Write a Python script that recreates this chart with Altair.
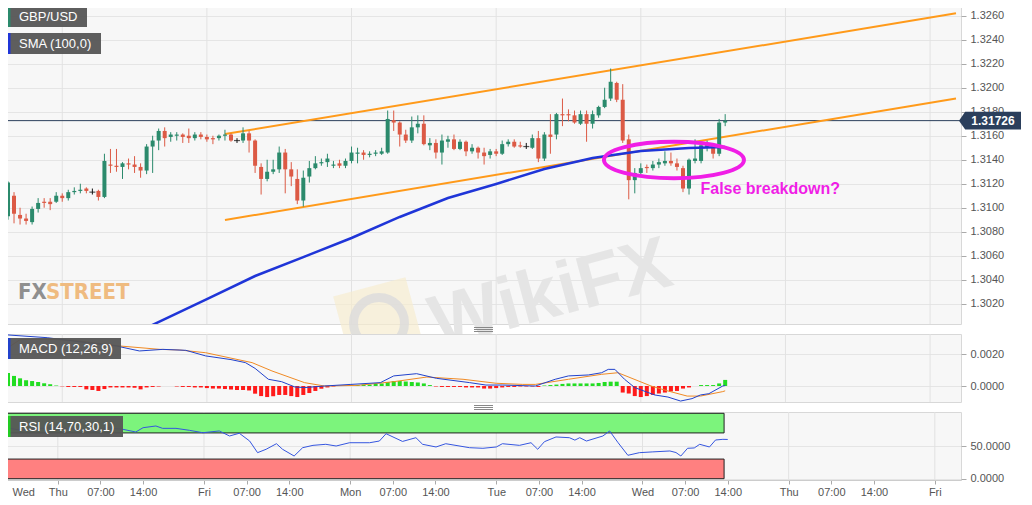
import json
import altair as alt
import pandas as pd

# ---------------- data ----------------
# hourly candle positions: hours since Thu 00:00 (weekend compressed)
hours = list(range(-9, 111))

opens = [
    1.3093, 1.3110, 1.3094, 1.3091, 1.3088, 1.3099, 1.3105, 1.3105, 1.3105, 1.3110, 1.3108, 1.3113,
    1.3114, 1.3116, 1.3113, 1.3114, 1.3109, 1.3136, 1.3135, 1.3134, 1.3137, 1.3136, 1.3134, 1.3131,
    1.3151, 1.3156, 1.3164, 1.3159, 1.3160, 1.3161, 1.3160, 1.3158, 1.3161, 1.3159, 1.3158, 1.3158,
    1.3160, 1.3161, 1.3156, 1.3156, 1.3162, 1.3156, 1.3134, 1.3124, 1.3130, 1.3132, 1.3146, 1.3132,
    1.3124, 1.3106, 1.3126, 1.3133, 1.3137, 1.3138, 1.3135, 1.3137, 1.3135, 1.3139, 1.3145, 1.3146,
    1.3144, 1.3145, 1.3145, 1.3146, 1.3173, 1.3171, 1.3161, 1.3156, 1.3167, 1.3170, 1.3152, 1.3154,
    1.3146, 1.3155, 1.3157, 1.3149, 1.3155, 1.3147, 1.3150, 1.3146, 1.3144, 1.3147, 1.3145, 1.3153,
    1.3155, 1.3152, 1.3151, 1.3150, 1.3158, 1.3141, 1.3161, 1.3161, 1.3178, 1.3178, 1.3177, 1.3170,
    1.3178, 1.3170, 1.3177, 1.3184, 1.3191, 1.3204, 1.3190, 1.3157, 1.3123, 1.3129, 1.3134, 1.3133,
    1.3136, 1.3137, 1.3139, 1.3137, 1.3133, 1.3116, 1.3139, 1.3139, 1.3150, 1.3151, 1.3145, 1.3171,
]
highs = [
    1.3122, 1.3113, 1.3100, 1.3095, 1.3101, 1.3108, 1.3108, 1.3108, 1.3113, 1.3112, 1.3115, 1.3117,
    1.3120, 1.3117, 1.3116, 1.3115, 1.3145, 1.3149, 1.3149, 1.3138, 1.3141, 1.3143, 1.3137, 1.3153,
    1.3160, 1.3166, 1.3167, 1.3163, 1.3163, 1.3162, 1.3166, 1.3163, 1.3163, 1.3161, 1.3160, 1.3161,
    1.3165, 1.3162, 1.3158, 1.3167, 1.3164, 1.3157, 1.3137, 1.3140, 1.3140, 1.3151, 1.3149, 1.3138,
    1.3132, 1.3131, 1.3139, 1.3143, 1.3141, 1.3145, 1.3139, 1.3140, 1.3141, 1.3151, 1.3150, 1.3148,
    1.3147, 1.3148, 1.3150, 1.3181, 1.3181, 1.3172, 1.3165, 1.3176, 1.3177, 1.3177, 1.3158, 1.3157,
    1.3161, 1.3160, 1.3161, 1.3157, 1.3156, 1.3153, 1.3151, 1.3150, 1.3149, 1.3149, 1.3156, 1.3157,
    1.3157, 1.3155, 1.3154, 1.3161, 1.3164, 1.3163, 1.3178, 1.3179, 1.3191, 1.3182, 1.3181, 1.3181,
    1.3181, 1.3181, 1.3185, 1.3200, 1.3216, 1.3205, 1.3203, 1.3161, 1.3133, 1.3137, 1.3136, 1.3139,
    1.3141, 1.3147, 1.3146, 1.3141, 1.3135, 1.3141, 1.3157, 1.3154, 1.3156, 1.3153, 1.3174, 1.3178,
]
lows = [
    1.3090, 1.3087, 1.3086, 1.3086, 1.3086, 1.3096, 1.3100, 1.3098, 1.3104, 1.3105, 1.3106, 1.3111,
    1.3112, 1.3112, 1.3111, 1.3106, 1.3108, 1.3129, 1.3130, 1.3124, 1.3132, 1.3129, 1.3125, 1.3128,
    1.3129, 1.3148, 1.3151, 1.3155, 1.3156, 1.3154, 1.3154, 1.3156, 1.3157, 1.3155, 1.3153, 1.3156,
    1.3156, 1.3155, 1.3154, 1.3154, 1.3146, 1.3129, 1.3111, 1.3122, 1.3128, 1.3129, 1.3112, 1.3118,
    1.3103, 1.3101, 1.3121, 1.3132, 1.3135, 1.3134, 1.3133, 1.3133, 1.3133, 1.3137, 1.3137, 1.3140,
    1.3142, 1.3143, 1.3144, 1.3145, 1.3164, 1.3151, 1.3154, 1.3154, 1.3162, 1.3152, 1.3148, 1.3141,
    1.3136, 1.3150, 1.3148, 1.3148, 1.3143, 1.3145, 1.3141, 1.3136, 1.3141, 1.3143, 1.3144, 1.3151,
    1.3150, 1.3150, 1.3149, 1.3149, 1.3138, 1.3139, 1.3145, 1.3157, 1.3168, 1.3172, 1.3170, 1.3169,
    1.3155, 1.3166, 1.3175, 1.3183, 1.3189, 1.3188, 1.3154, 1.3107, 1.3112, 1.3128, 1.3129, 1.3131,
    1.3133, 1.3135, 1.3135, 1.3131, 1.3113, 1.3111, 1.3137, 1.3137, 1.3147, 1.3141, 1.3143, 1.3168,
]
closes = [
    1.3121, 1.3095, 1.3091, 1.3089, 1.3099, 1.3104, 1.3104, 1.3103, 1.3110, 1.3108, 1.3113, 1.3114,
    1.3115, 1.3114, 1.3113, 1.3109, 1.3139, 1.3135, 1.3134, 1.3137, 1.3136, 1.3134, 1.3131, 1.3151,
    1.3156, 1.3164, 1.3158, 1.3161, 1.3161, 1.3159, 1.3158, 1.3161, 1.3159, 1.3157, 1.3157, 1.3160,
    1.3161, 1.3156, 1.3156, 1.3162, 1.3156, 1.3135, 1.3124, 1.3130, 1.3132, 1.3146, 1.3132, 1.3126,
    1.3106, 1.3125, 1.3133, 1.3137, 1.3138, 1.3141, 1.3136, 1.3135, 1.3139, 1.3146, 1.3146, 1.3144,
    1.3145, 1.3146, 1.3147, 1.3174, 1.3171, 1.3161, 1.3156, 1.3167, 1.3170, 1.3153, 1.3154, 1.3146,
    1.3156, 1.3157, 1.3149, 1.3155, 1.3147, 1.3150, 1.3146, 1.3143, 1.3147, 1.3145, 1.3153, 1.3155,
    1.3151, 1.3151, 1.3151, 1.3158, 1.3141, 1.3161, 1.3159, 1.3178, 1.3177, 1.3177, 1.3171, 1.3178,
    1.3170, 1.3178, 1.3184, 1.3190, 1.3205, 1.3190, 1.3156, 1.3123, 1.3129, 1.3133, 1.3133, 1.3136,
    1.3138, 1.3139, 1.3137, 1.3134, 1.3116, 1.3140, 1.3141, 1.3152, 1.3153, 1.3145, 1.3171, 1.31726,
]

# SMA(100) read at several points
sma_t = [14, 24, 32, 40, 48, 56, 64, 72, 80, 88, 96, 104, 110]
sma_v = [1.3000, 1.30239, 1.30431, 1.30589, 1.30748, 1.30923, 1.31081, 1.31198,
         1.31323, 1.31414, 1.31473, 1.31498, 1.31506]

# rising channel (two hand-drawn trend lines)
channel_t = [27.0, 148.3]
channel_upper = [1.31614, 1.32620]
channel_lower = [1.30898, 1.31911]

last_price = 1.31726

# annotation
note_text = "False breakdown?"
note_t, note_p = 105.9, 1.31156
ellipse_t, ellipse_p = 101.5, 1.31398

# MACD (12,26,9)
macd_hist = [
    0.00081, 0.00063, 0.00048, 0.00036, 0.00031, 0.00025, 0.00017, 0.00011, 0.00003, -0.00002,
    -0.00006, -0.00006, -0.00006, -0.00021, -0.00025, -0.00031, -0.00019, -0.00009, -0.00009, -0.00009,
    -0.00009, -0.00011, -0.00021, -0.00009, -0.00006, -0.00003, 0.0, 0.0, -0.00003, -0.00006,
    -0.00006, -0.00009, -0.00009, -0.00013, -0.00016, -0.00016, -0.00019, -0.00022, -0.00025, -0.00025,
    -0.00028, -0.00048, -0.00063, -0.00069, -0.00064, -0.00056, -0.00056, -0.00063, -0.00069, -0.00056,
    -0.00044, -0.00031, -0.00017, -0.00009, -0.00003, 0.0, 0.0, 0.00003, 0.00006, 0.00009,
    0.00009, 0.00013, 0.00016, 0.00025, 0.00031, 0.00031, 0.00028, 0.00025, 0.00022, 0.00016,
    0.00006, -0.00003, -0.00006, -0.00006, -0.00006, -0.00006, -0.00009, -0.00009, -0.00009, -0.00016,
    -0.00016, -0.00013, -0.00009, -0.00006, -0.00006, -0.00003, -0.00003, -0.00003, -0.00006, 0.00003,
    0.00006, 0.00009, 0.00013, 0.00016, 0.00016, 0.00016, 0.00016, 0.00016, 0.00019, 0.00025,
    0.00027, 0.00027, -0.00041, -0.00047, -0.00063, -0.00069, -0.00063, -0.00056, -0.00047, -0.00041,
    -0.00034, -0.00031, -0.00016, -0.00009, 0.0, 0.00006, 0.00006, 0.00006, 0.00016, 0.00038,
]
macd_t = [-9, -2.5, 4, 9, 12.8, 16.7, 20.5, 23.8, 28, 30.4, 32, 34.2, 36.4, 38.6, 40.2, 43.5,
          47.9, 52.8, 55, 58.8, 62.1, 67.6, 70.3, 73, 78.5, 81.8, 84, 87.3, 89.5, 90.6, 91.7,
          93.3, 95, 98.3, 100.5, 102.6, 104.5, 105.9, 107.3, 109.6, 110]
macd_v = [0.00319, 0.00302, 0.00271, 0.0025, 0.00219, 0.00229, 0.00223, 0.00188, 0.00165, 0.00146,
          0.0011, 0.00042, 0.00027, -0.00006, -0.0001, 0.0, 0.0001, 0.00021, 0.00063, 0.00077,
          0.00048, 0.00021, 0.00006, 0.00006, 0.0, 0.00042, 0.00063, 0.00069, 0.00083, 0.00104,
          0.00104, 0.00042, -0.0001, -0.00056, -0.00069, -0.00094, -0.00079, -0.00056, -0.00048,
          0.0, 0.00003]
signal_t = [-9, -7, -2.5, 2, 9.6, 16.2, 19.5, 23.8, 31.5, 34.8, 40.2, 43.5, 49, 55, 60.5, 66.5,
            72, 76.4, 78.5, 84, 89.5, 92.2, 97.7, 100.5, 103.7, 105.9, 109.6, 110]
signal_v = [0.0024, 0.0029, 0.00292, 0.00285, 0.0025, 0.00229, 0.00225, 0.00208, 0.00146, 0.00094,
            0.00021, 0.0, 0.00004, 0.00027, 0.00056, 0.00042, 0.00017, 0.0001, 0.0001, 0.00042,
            0.00073, 0.00083, 0.0, -0.00031, -0.00063, -0.00063, -0.00035, -0.0003]

# RSI (14,70,30,1)
rsi_t = [-9, -8.5, -6, -3, 0, 3, 6, 8, 10.7, 12.8, 14, 16.1, 17.2, 19.4, 21.6, 23.8, 26.5, 28.2,
         29.8, 31.5, 32.8, 34.2, 35.9, 36.9, 38.8, 40.2, 41.9, 44, 45.7, 47.9, 51.2, 52.8, 53.9,
         56.6, 58.8, 59.9, 62.1, 63.7, 67.6, 69.8, 72, 73, 75.8, 77.7, 78.8, 79.9, 81.8, 84, 84.9,
         85.7, 86.8, 89.5, 90.6, 92, 93.6, 95.5, 97.7, 100.5, 101.5, 102.3, 103.4, 104.5, 105.4,
         107, 108, 109.2, 110]
rsi_v = [83, 78, 74, 77, 78, 76, 72, 78, 75.5, 71.4, 78, 80.6, 77, 77, 74, 70.3, 73, 65.3,
         69.5, 57.6, 39.8, 45, 53.5, 45, 34.7, 47.4, 51, 52.6, 50, 55, 55, 57.6, 68.8,
         57, 62.7, 52.6, 48.5, 53.5, 47.4, 46.5, 48.5, 53.5, 51, 55, 45, 56.6, 63.8, 62.7, 59,
         62.7, 57.6, 65.3, 73, 55, 35.8, 39.8, 41, 42.4, 40, 34.7, 46.5, 47, 52.6,
         48.5, 59.2, 60.2, 60]
rsi_upper, rsi_lower, rsi_max = 70, 30, 100
rsi_band_end = 109.4

# axes
day_ticks = [0, 24, 48, 72, 96, 120, 144]
x_tick_vals = [-9, 0, 7, 14, 24, 31, 38, 48, 55, 62, 72, 79, 86, 96, 103, 110, 120, 127, 134, 144]
x_tick_labels = ["Wed", "Thu", "07:00", "14:00", "Fri", "07:00", "14:00", "Mon", "07:00", "14:00",
                 "Tue", "07:00", "14:00", "Wed", "07:00", "14:00", "Thu", "07:00", "14:00", "Fri"]
price_ticks = [1.3020, 1.3040, 1.3060, 1.3080, 1.3100, 1.3120, 1.3140, 1.3160, 1.3180,
               1.3200, 1.3220, 1.3240, 1.3260]
macd_ticks = [0.0, 0.0020]
rsi_ticks = [0, 50]

# ---------------- styling ----------------
FONT = "Liberation Sans, Arial, sans-serif"
NARROW = "Liberation Sans Narrow, DejaVu Sans Condensed, Arial Narrow, sans-serif"
GREEN = "#2b8a6c"
RED = "#dc5a45"
MAGENTA = "#f01ee6"
NAVY = "#2b3f5c"
W = 958

xs = alt.Scale(domain=[-9, 148.3], nice=False, zero=False)
ys_main = alt.Scale(domain=[1.30031, 1.32723], nice=False, zero=False)
ys_macd = alt.Scale(domain=[-0.001, 0.00325], nice=False, zero=False)
ys_rsi = alt.Scale(domain=[-2, 102], nice=False, zero=False)


def y_axis(values):
    return alt.Axis(orient="right", values=values, format=".4f", title=None, grid=True,
                    gridColor="#e5e5e5", domain=False, tickColor="#aaaaaa", tickSize=5,
                    labelColor="#555555", labelFontSize=11, labelFont=FONT, labelPadding=4)


ax_main = y_axis(price_ticks)
ax_macd = y_axis(macd_ticks)
ax_rsi = y_axis(rsi_ticks)

label_expr = f"{json.dumps(x_tick_labels)}[indexof({json.dumps(x_tick_vals)}, datum.value)]"
first_tick = f"datum.value == {x_tick_vals[0]}"
ax_x = alt.Axis(values=x_tick_vals, labelExpr=label_expr, grid=False, domain=True,
                domainColor="#cccccc", ticks=True, tickSize=4, tickColor="#aaaaaa",
                labelColor="#555555", labelFontSize=11, labelFont=FONT, labelPadding=2,
                labelFlush=True, labelOverlap=False, title=None,
                labelAlign=alt.condition(first_tick, alt.value("left"), alt.value("center")),
                labelOffset=alt.condition(first_tick, alt.value(9), alt.value(0)))


def X(field="t", axis=None):
    return alt.X(f"{field}:Q", scale=xs, axis=axis)


def day_rules(axis=None):
    return alt.Chart(pd.DataFrame({"t": day_ticks})).mark_rule(
        color="#e2e2e2", strokeWidth=1).encode(x=X("t", axis))


ONE = alt.Data(values=[{}])


def label_box(x1, x2, y1, y2, text, bar_color):
    box = alt.Chart(ONE).mark_rect(color="#555555", opacity=0.95).encode(
        x=alt.value(x1), x2=alt.value(x2), y=alt.value(y1), y2=alt.value(y2))
    bar = alt.Chart(ONE).mark_rect(color=bar_color).encode(
        x=alt.value(x1), x2=alt.value(x1 + 2.5), y=alt.value(y1), y2=alt.value(y2))
    txt = alt.Chart(ONE).mark_text(align="left", baseline="middle", color="white",
                                   fontSize=13, font=FONT).encode(
        x=alt.value(x1 + 11), y=alt.value((y1 + y2) / 2 + 0.5), text=alt.value(text))
    return [box, bar, txt]


def handle(y):
    # small "drag handle" of three short grey lines between panels
    return [alt.Chart(ONE).mark_rule(color="#888888", strokeWidth=1).encode(
        x=alt.value(471), x2=alt.value(490), y=alt.value(y + k * 2)) for k in range(3)]


# ---------------- main price panel ----------------
candles = pd.DataFrame({"t": hours, "open": opens, "high": highs, "low": lows, "close": closes})
candles["dir"] = ["up" if c > o else ("down" if c < o else "flat") for o, c in zip(opens, closes)]
cscale = alt.Scale(domain=["up", "down", "flat"], range=[GREEN, RED, "#111111"])

wm_logo = alt.Chart(ONE).mark_point(shape="square", size=5600, filled=True, angle=345,
                                    color="#f6ecd0", opacity=0.7).encode(
    x=alt.value(376), y=alt.value(322))
wm_ring = alt.Chart(ONE).mark_point(shape="circle", size=2600, filled=False, angle=0,
                                    strokeWidth=9, color="#dcdcdc", opacity=0.8).encode(
    x=alt.value(376), y=alt.value(322))
wm_wikifx = alt.Chart(ONE).mark_text(align="center", baseline="middle", fontSize=74,
                                     fontWeight="bold", color="#e5e5e5", angle=345,
                                     font=FONT).encode(
    x=alt.value(548), y=alt.value(294), text=alt.value("WikiFX"))
wm_fx = alt.Chart(ONE).mark_text(align="left", baseline="middle", fontSize=22,
                                 fontWeight="bold", color="#8f8f8f", font=NARROW).encode(
    x=alt.value(15), y=alt.value(291), text=alt.value("FX"))
wm_street = alt.Chart(ONE).mark_text(align="left", baseline="middle", fontSize=22,
                                     fontWeight="bold", color="#efbb80", font=NARROW).encode(
    x=alt.value(43), y=alt.value(291), text=alt.value("STREET"))

ch_df = pd.DataFrame({
    "t": channel_t + channel_t,
    "p": channel_upper + channel_lower,
    "line": ["upper"] * 2 + ["lower"] * 2,
})
channel = alt.Chart(ch_df).mark_line(color="#ff9a1a", strokeWidth=2, clip=True).encode(
    x=X(), y=alt.Y("p:Q", scale=ys_main, axis=ax_main), detail="line:N")

sma = alt.Chart(pd.DataFrame({"t": sma_t, "p": sma_v})).mark_line(
    color="#1f35d8", strokeWidth=2.5, clip=True).encode(
    x=X(), y=alt.Y("p:Q", scale=ys_main, axis=ax_main))

last_df = pd.DataFrame({"p": [last_price]})
price_rule = alt.Chart(last_df).mark_rule(color=NAVY, strokeWidth=1).encode(
    y=alt.Y("p:Q", scale=ys_main, axis=ax_main))

wicks = alt.Chart(candles).mark_rule(strokeWidth=1).encode(
    x=X(), y=alt.Y("low:Q", scale=ys_main, axis=ax_main), y2="high:Q",
    color=alt.Color("dir:N", scale=cscale, legend=None))
bodies = alt.Chart(candles).mark_bar(size=4).encode(
    x=X(), y=alt.Y("open:Q", scale=ys_main, axis=ax_main), y2="close:Q",
    color=alt.Color("dir:N", scale=cscale, legend=None))
dojis = alt.Chart(candles).transform_filter("datum.dir == 'flat'").mark_tick(
    orient="horizontal", size=6, thickness=1.2, color="#111111").encode(
    x=X(), y=alt.Y("open:Q", scale=ys_main, axis=ax_main))

ELLIPSE = "M-1,0A1,0.26,0,1,1,1,0A1,0.26,0,1,1,-1,0Z"
ellipse = alt.Chart(pd.DataFrame({"t": [ellipse_t], "p": [ellipse_p]})).mark_point(
    shape=ELLIPSE, size=19600, filled=False, strokeWidth=4, color=MAGENTA, opacity=1).encode(
    x=X(), y=alt.Y("p:Q", scale=ys_main, axis=ax_main))
note = alt.Chart(pd.DataFrame({"t": [note_t], "p": [note_p], "label": [note_text]})).mark_text(
    align="left", baseline="middle", fontSize=16, fontWeight="bold", color=MAGENTA,
    font=FONT).encode(x=X(), y=alt.Y("p:Q", scale=ys_main, axis=ax_main), text="label:N")

TAG = "M-1,0L-0.8,-0.29L1,-0.29L1,0.29L-0.8,0.29Z"
tag = alt.Chart(last_df).mark_point(shape=TAG, size=3844, filled=True, color=NAVY,
                                    opacity=1).encode(
    x=alt.value(987), y=alt.Y("p:Q", scale=ys_main, axis=ax_main))
tag_text = alt.Chart(last_df).mark_text(align="center", baseline="middle", color="white",
                                        fontSize=12, fontWeight="bold", font=FONT).encode(
    x=alt.value(990), y=alt.Y("p:Q", scale=ys_main, axis=ax_main),
    text=alt.Text("p:Q", format=".5f"))

main_layers = [day_rules(), wm_logo, wm_ring, wm_wikifx, wm_fx, wm_street, price_rule, channel,
               wicks, bodies, dojis, sma, ellipse, note, tag, tag_text]
main_layers += label_box(5, 84, 5, 26, "GBP/USD", GREEN)
main_layers += label_box(5, 98, 32, 53, "SMA (100,0)", "#1f35d8")
main_layers += handle(326.5)
main = alt.layer(*main_layers).properties(width=W, height=323)

# ---------------- MACD panel ----------------
hist_df = pd.DataFrame({"t": hours, "h": macd_hist})
hist = alt.Chart(hist_df).mark_bar(size=4).encode(
    x=X(), y=alt.Y("h:Q", scale=ys_macd, axis=ax_macd), y2=alt.datum(0),
    color=alt.condition("datum.h >= 0", alt.value("#22dd22"), alt.value("#ff1a1a")))
macd_line = alt.Chart(pd.DataFrame({"t": macd_t, "v": macd_v})).mark_line(
    color="#2142cc", strokeWidth=1).encode(x=X(), y=alt.Y("v:Q", scale=ys_macd, axis=ax_macd))
signal_line = alt.Chart(pd.DataFrame({"t": signal_t, "v": signal_v})).mark_line(
    color="#f08a24", strokeWidth=1).encode(x=X(), y=alt.Y("v:Q", scale=ys_macd, axis=ax_macd))
macd_layers = [day_rules(), hist, signal_line, macd_line]
macd_layers += label_box(5, 118, 4, 25, "MACD (12,26,9)", "#2142cc")
macd_layers += handle(71.5)
macd = alt.layer(*macd_layers).properties(width=W, height=68)

# ---------------- RSI panel ----------------
band_df = pd.DataFrame({
    "x1": [hours[0], hours[0]], "x2": [rsi_band_end, rsi_band_end],
    "lo": [rsi_upper, 0], "hi": [rsi_max, rsi_lower], "zone": ["over", "under"],
})
bands = alt.Chart(band_df).mark_rect(stroke="#222222", strokeWidth=1).encode(
    x=X("x1", ax_x), x2="x2:Q", y=alt.Y("lo:Q", scale=ys_rsi, axis=ax_rsi), y2="hi:Q",
    color=alt.condition("datum.zone == 'over'", alt.value("#7cf47c"), alt.value("#ff8080")))
rsi_line = alt.Chart(pd.DataFrame({"t": rsi_t, "v": rsi_v})).mark_line(
    color="#3556e0", strokeWidth=1).encode(x=X("t", ax_x),
                                            y=alt.Y("v:Q", scale=ys_rsi, axis=ax_rsi))
rsi_layers = [day_rules(ax_x), bands, rsi_line]
rsi_layers += label_box(5, 120, 4, 25, "RSI (14,70,30,1)", "#22cc22")
rsi = alt.layer(*rsi_layers).properties(width=W, height=68)

chart = alt.vconcat(main, macd, rsi, spacing=10, bounds="flush").resolve_scale(
    x="independent", y="independent", color="independent"
).properties(
    padding={"left": -8, "top": -8, "right": 0, "bottom": 0},
    background="white",
).configure_view(fill="#f7f7f7", stroke="#d8d8d8", strokeWidth=1)

chart.save("out.html", embed_options={"renderer": "svg", "actions": False})
